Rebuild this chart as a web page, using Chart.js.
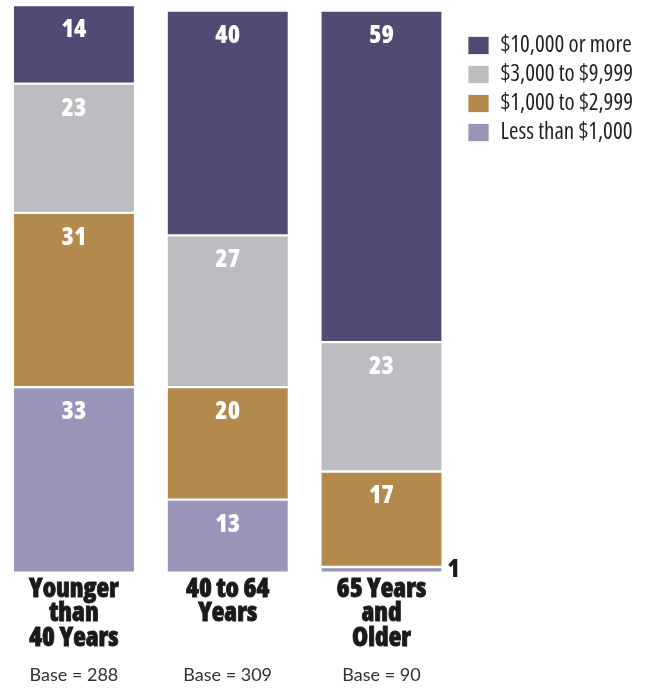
<!DOCTYPE html>
<html>
<head>
<meta charset="utf-8">
<title>Savings by age group</title>
<script src="https://cdn.jsdelivr.net/npm/chart.js@4.4.1/dist/chart.umd.min.js"></script>
<style>
	html, body { margin: 0; padding: 0; background: #fff; overflow: hidden; }
	#wrap { position: absolute; left: -3px; top: 0; width: 650px; height: 688px; }
</style>
</head>
<body>
<div id="wrap"><canvas id="savingsChart"></canvas></div>
<script>
// Age groups and sample sizes
const ageGroups = [
	['Younger', 'than', '40 Years'],
	['40 to 64', 'Years'],
	['65 Years', 'and', 'Older'],
];
const baseLabels = ['Base = 288', 'Base = 309', 'Base = 90'];

// Percent of each group, bottom segment first
const lessThan1k = [33, 13, 1];
const from1kTo3k = [31, 20, 17];
const from3kTo10k = [23, 27, 23];
const over10k = [14, 40, 59];

const seriesNames = ['Less than $1,000', '$1,000 to $2,999', '$3,000 to $9,999', '$10,000 or more'];
const seriesColors = ['#9a94b8', '#b38a4c', '#bcbdc0', '#524a72'];

const FAMILY = "'Open Sans', 'DejaVu Sans Condensed', sans-serif";
Chart.defaults.font.family = FAMILY;

const CANVAS_W = 650;
const PLOT_RIGHT = 461.4; // right edge of the bars' area
const LEGEND_GAP = 3.6; // extra space between bars and legend
const LEGEND_SIZE = 23;
const LEGEND_BOX = 21;
const LEGEND_PAD = 6;

// legend width is padding + box + gap + text + 10, so pad the right side to pin its left edge
const probe = document.createElement('canvas').getContext('2d');
probe.font = 'condensed 400 ' + LEGEND_SIZE + 'px ' + FAMILY;
const legendTextW = Math.max(...seriesNames.map((s) => probe.measureText(s).width));
const legendW = LEGEND_PAD + LEGEND_BOX + LEGEND_SIZE / 2 + legendTextW + 10;
const rightPad = Math.max(0, CANVAS_W - PLOT_RIGHT - legendW);

// the layout puts the legend flush against the plot, move it over a little
const legendGap = {
	id: 'legendGap',
	afterLayout(chart) {
		chart.legend.left += LEGEND_GAP;
		chart.legend.right += LEGEND_GAP;
	},
};

// Numbers at the top of each segment; tiny segments get theirs beside the bar
const valueLabels = {
	id: 'valueLabels',
	afterDatasetsDraw(chart) {
		const ctx = chart.ctx;
		ctx.save();
		ctx.font = 'condensed 800 25px ' + FAMILY;
		ctx.textAlign = 'center';
		ctx.textBaseline = 'alphabetic';
		chart.data.datasets.forEach((ds, i) => {
			const meta = chart.getDatasetMeta(i);
			meta.data.forEach((bar, j) => {
				const v = ds.data[j];
				if (v >= 5) {
					ctx.fillStyle = '#ffffff';
					ctx.fillText(v, bar.x, bar.y + 32);
				} else {
					ctx.fillStyle = '#1a1a1a';
					ctx.fillText(v, bar.x + bar.width / 2 + 12, bar.base + 4.5);
				}
			});
		});
		ctx.restore();
	},
};

const datasets = [lessThan1k, from1kTo3k, from3kTo10k, over10k].map((vals, i) => ({
	label: seriesNames[i],
	data: vals,
	backgroundColor: seriesColors[i],
	borderColor: '#ffffff',
	borderWidth: { top: 1.5, bottom: 1.5, left: 0, right: 0 },
	borderSkipped: false,
	barThickness: 120,
}));

new Chart(document.getElementById('savingsChart'), {
	type: 'bar',
	data: { labels: ageGroups, datasets: datasets },
	options: {
		responsive: true,
		maintainAspectRatio: false,
		animation: false,
		layout: { padding: { top: 5, right: rightPad, bottom: 0, left: 0 } },
		scales: {
			x: {
				stacked: true,
				grid: { display: false, drawTicks: false },
				border: { display: false },
				ticks: {
					padding: 4,
					color: '#1a1a1a',
					textStrokeColor: '#1a1a1a',
					textStrokeWidth: 0.8,
					font: { size: 26, weight: 'condensed 800', lineHeight: 0.96 },
					maxRotation: 0,
					autoSkip: false,
				},
			},
			base: {
				type: 'category',
				labels: baseLabels,
				position: 'bottom',
				weight: 1,
				grid: { display: false, drawTicks: false },
				border: { display: false },
				ticks: {
					padding: 11,
					color: '#333333',
					font: { family: "Lato, 'Open Sans', sans-serif", size: 18, weight: 400, lineHeight: 1 },
					maxRotation: 0,
					autoSkip: false,
				},
				afterFit(scale) {
					scale.height = 32.5;
				},
			},
			y: {
				stacked: true,
				display: false,
				min: 0,
				max: 101,
			},
		},
		plugins: {
			tooltip: { enabled: false },
			legend: {
				position: 'right',
				align: 'start',
				reverse: true,
				// empty title only pushes the entries down
				title: { display: true, text: '', font: { size: 12, lineHeight: 1 }, padding: { top: 11, bottom: 0 } },
				labels: {
					boxWidth: LEGEND_BOX,
					boxHeight: 18,
					padding: LEGEND_PAD,
					color: '#231f20',
					font: { size: LEGEND_SIZE, weight: 'condensed 400' },
				},
			},
		},
	},
	plugins: [legendGap, valueLabels],
});
</script>
</body>
</html>
